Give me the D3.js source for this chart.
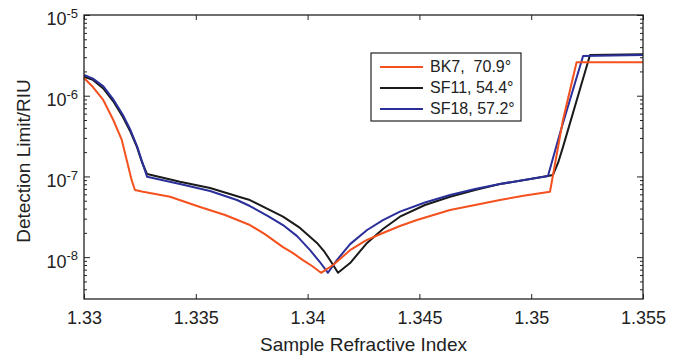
<!DOCTYPE html>
<html lang="en">

<head>
  <meta charset="utf-8">
  <title>Detection limit</title>
  <style>
    body { margin: 0; background: #fff; }
    text { font-family: "Liberation Sans", Arial, sans-serif; fill: #222; }
  </style>
</head>

<body>
  <script src="https://cdn.jsdelivr.net/npm/d3@7"></script>
  <script>
    var width = 681;
    var height = 356;
    var margin = {top: 15, right: 38, bottom: 57, left: 84};

    // series names (legend)
    var seriesNames = ["BK7,  70.9\u00b0", "SF11, 54.4\u00b0", "SF18, 57.2\u00b0"];
    var seriesColors = ["#f4511e", "#1a1a1a", "#2a2f9a"];

    // refractive index / detection limit
    var bk7N = [1.3300, 1.3304, 1.33086, 1.33131, 1.33169, 1.33191, 1.33213, 1.33228, 1.33264, 1.33385,
      1.33519, 1.33631, 1.33742, 1.33809, 1.3389, 1.33935, 1.33979, 1.3402, 1.3406, 1.34114,
      1.3419, 1.34261, 1.34337, 1.34413, 1.34489, 1.34637, 1.34749, 1.3486, 1.34972, 1.35084,
      1.35142, 1.35203, 1.355];
    var bk7DL = [1.66e-6, 1.28e-6, 8.85e-7, 5.0e-7, 2.83e-7, 1.6e-7, 9.0e-8, 6.8e-8, 6.46e-8, 5.6e-8,
      4.18e-8, 3.33e-8, 2.5e-8, 1.93e-8, 1.33e-8, 1.12e-8, 9.2e-9, 7.76e-9, 6.4e-9, 8.0e-9,
      1.22e-8, 1.61e-8, 1.99e-8, 2.43e-8, 2.88e-8, 3.84e-8, 4.43e-8, 5.1e-8, 5.79e-8, 6.46e-8,
      5.0e-7, 2.6e-6, 2.6e-6];

    var sf11N = [1.3300, 1.3304, 1.33085, 1.3313, 1.33174, 1.33206, 1.33237, 1.33259, 1.33282, 1.33429,
      1.33564, 1.33711, 1.33742, 1.3389, 1.33966, 1.34042, 1.34073, 1.341, 1.34136, 1.3419,
      1.34266, 1.34337, 1.34413, 1.34525, 1.34637, 1.34749, 1.3486, 1.35075, 1.35097, 1.3512,
      1.35142, 1.35263, 1.355];
    var sf11DL = [1.72e-6, 1.57e-6, 1.24e-6, 8.59e-7, 5.45e-7, 3.66e-7, 2.31e-7, 1.51e-7, 1.07e-7, 8.6e-8,
      7.18e-8, 5.4e-8, 5.1e-8, 3.17e-8, 2.3e-8, 1.5e-8, 1.19e-8, 9.2e-9, 6.4e-9, 8.45e-9,
      1.5e-8, 2.23e-8, 3.17e-8, 4.43e-8, 5.6e-8, 6.79e-8, 8.05e-8, 1.01e-7, 1.04e-7, 1.47e-7,
      2.31e-7, 3.19e-6, 3.26e-6];

    var sf18N = [1.3300, 1.3304, 1.33085, 1.3313, 1.33174, 1.33206, 1.33237, 1.33259, 1.33282, 1.33429,
      1.33564, 1.33684, 1.33742, 1.33823, 1.3389, 1.33953, 1.34011, 1.34055, 1.34091, 1.34131,
      1.3419, 1.34266, 1.34337, 1.34413, 1.34525, 1.34637, 1.34749, 1.3486, 1.35075, 1.35129,
      1.35232, 1.355];
    var sf18DL = [1.81e-6, 1.63e-6, 1.32e-6, 9.1e-7, 5.77e-7, 3.86e-7, 2.38e-7, 1.55e-7, 9.9e-8, 8.05e-8,
      6.59e-8, 5.1e-8, 4.3e-8, 3.23e-8, 2.5e-8, 1.82e-8, 1.22e-8, 8.7e-9, 6.4e-9, 9.2e-9,
      1.45e-8, 2.17e-8, 2.88e-8, 3.66e-8, 4.75e-8, 5.89e-8, 6.98e-8, 8.05e-8, 1.01e-7, 3.45e-7,
      3.1e-6, 3.19e-6];

    var xTicks = [1.33, 1.335, 1.34, 1.345, 1.35, 1.355];
    var yTicks = [1e-8, 1e-7, 1e-6, 1e-5];
    var yExponents = ["-8", "-7", "-6", "-5"];

    var allN = [bk7N, sf11N, sf18N];
    var allDL = [bk7DL, sf11DL, sf18DL];

    var svg = d3.select("body").append("svg")
      .attr("width", width)
      .attr("height", height);

    var x0 = margin.left, x1 = width - margin.right;
    var y0 = height - margin.bottom, y1 = margin.top;

    var xScale = d3.scaleLinear()
      .domain([1.33, 1.355])
      .range([x0, x1]);

    var yScale = d3.scaleLog()
      .domain([3.03e-9, 1e-5])
      .range([y0, y1]);

    // minor log ticks
    var minorTicks = [];
    [1e-9, 1e-8, 1e-7, 1e-6].forEach(function(d) {
      for (var k = 2; k <= 9; k++) {
        var v = d * k;
        if (v >= 3.03e-9 && v < 1e-5) minorTicks.push(v);
      }
    });

    // curves
    var line = d3.line()
      .x(function(d) { return xScale(d[0]); })
      .y(function(d) { return yScale(d[1]); });

    // black first, blue over it, orange last
    [1, 2, 0].forEach(function(i) {
      var pts = allN[i].map(function(n, j) { return [n, allDL[i][j]]; });
      svg.append("path")
        .datum(pts)
        .attr("fill", "none")
        .attr("stroke", seriesColors[i])
        .attr("stroke-width", 2)
        .attr("stroke-linejoin", "round")
        .attr("d", line);
    });

    // axes (ticks pointing inward on all four sides)
    svg.append("g")
      .attr("transform", "translate(0," + y0 + ")")
      .call(d3.axisBottom(xScale).tickValues(xTicks).tickSize(-5).tickPadding(12)
        .tickFormat(function(d) { return d3.format("")(+d.toFixed(3)); }))
      .call(function(g) {
        g.select(".domain").remove();
        g.selectAll(".tick line").attr("stroke", "#222");
        g.selectAll(".tick text").attr("font-size", 18).attr("dy", "0.71em");
      });

    svg.append("g")
      .attr("transform", "translate(0," + y1 + ")")
      .call(d3.axisTop(xScale).tickValues(xTicks).tickSize(-5).tickFormat(""))
      .call(function(g) {
        g.select(".domain").remove();
        g.selectAll(".tick line").attr("stroke", "#222");
      });

    var yLeft = svg.append("g")
      .attr("transform", "translate(" + x0 + ",0)")
      .call(d3.axisLeft(yScale).tickValues(yTicks).tickSize(-6).tickPadding(18).tickFormat(""));
    yLeft.select(".domain").remove();
    yLeft.selectAll(".tick line").attr("stroke", "#222");
    yLeft.selectAll(".tick text").each(function(d, i) {
      var t = d3.select(this)
        .attr("font-size", 18)
        .attr("x", -6)
        .attr("dy", "0.55em")
        .attr("text-anchor", "end");
      t.append("tspan").text("10");
      t.append("tspan").attr("font-size", 13).attr("dy", "-0.55em").text(yExponents[i]);
    });

    svg.append("g")
      .attr("transform", "translate(" + x0 + ",0)")
      .call(d3.axisLeft(yScale).tickValues(minorTicks).tickSize(-3).tickFormat(""))
      .call(function(g) {
        g.select(".domain").remove();
        g.selectAll(".tick line").attr("stroke", "#222");
      });

    svg.append("g")
      .attr("transform", "translate(" + x1 + ",0)")
      .call(d3.axisRight(yScale).tickValues(yTicks).tickSize(-6).tickFormat(""))
      .call(function(g) {
        g.select(".domain").remove();
        g.selectAll(".tick line").attr("stroke", "#222");
      });

    svg.append("g")
      .attr("transform", "translate(" + x1 + ",0)")
      .call(d3.axisRight(yScale).tickValues(minorTicks).tickSize(-3).tickFormat(""))
      .call(function(g) {
        g.select(".domain").remove();
        g.selectAll(".tick line").attr("stroke", "#222");
      });

    // box
    svg.append("rect")
      .attr("x", x0)
      .attr("y", y1)
      .attr("width", x1 - x0)
      .attr("height", y0 - y1)
      .attr("fill", "none")
      .attr("stroke", "#222")
      .attr("stroke-width", 1.3);

    // axis titles
    svg.append("text")
      .attr("x", (x0 + x1) / 2)
      .attr("y", 351)
      .attr("text-anchor", "middle")
      .attr("font-size", 19)
      .text("Sample Refractive Index");

    svg.append("text")
      .attr("transform", "translate(30," + ((y0 + y1) / 2 + 4) + ") rotate(-90)")
      .attr("text-anchor", "middle")
      .attr("font-size", 19)
      .text("Detection Limit/RIU");

    // legend
    var legend = svg.append("g").attr("transform", "translate(371,53)");
    legend.append("rect")
      .attr("width", 150)
      .attr("height", 68)
      .attr("fill", "#fff")
      .attr("stroke", "#222")
      .attr("stroke-width", 1.2);

    seriesNames.forEach(function(name, i) {
      var ly = 14 + i * 21;
      legend.append("line")
        .attr("x1", 9).attr("x2", 52)
        .attr("y1", ly).attr("y2", ly)
        .attr("stroke", seriesColors[i])
        .attr("stroke-width", 2);
      legend.append("text")
        .attr("x", 59)
        .attr("y", ly + 5)
        .attr("font-size", 16)
        .style("white-space", "pre")
        .text(name);
    });
  </script>
</body>

</html>
